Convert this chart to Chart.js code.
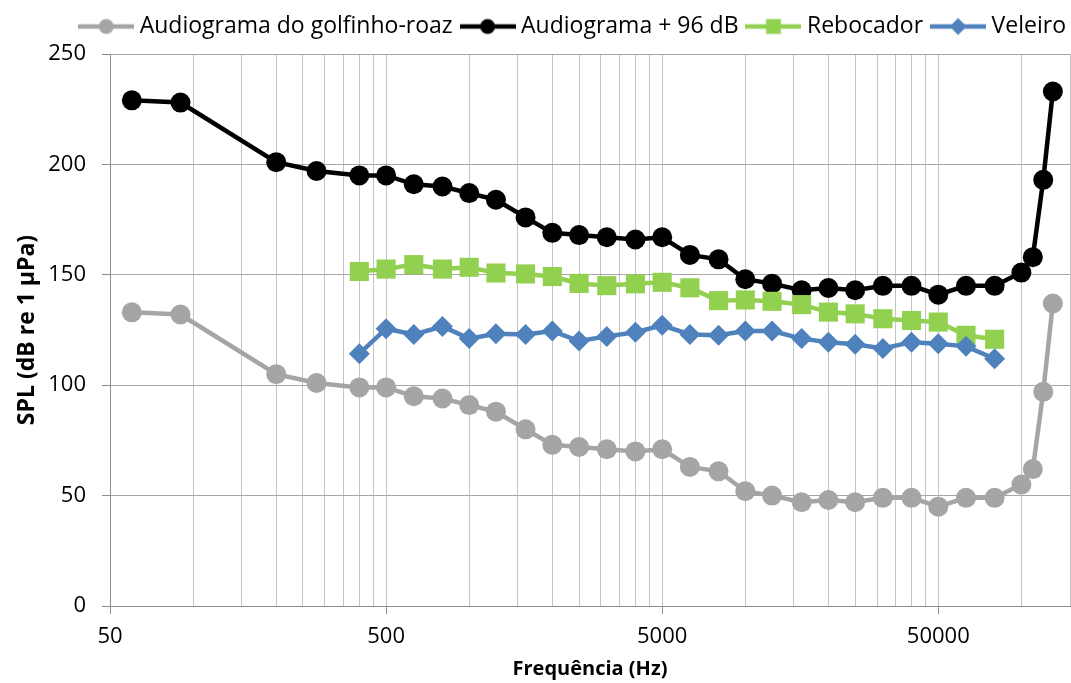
<!DOCTYPE html>
<html>
<head>
<meta charset="utf-8">
<title>Audiograma</title>
<script src="https://cdn.jsdelivr.net/npm/chart.js@4/dist/chart.umd.min.js"></script>
<style>
  html, body { margin: 0; padding: 0; background: #fff; }
  #chart { display: block; }
</style>
</head>
<body>
<canvas id="chart" width="1071" height="683"></canvas>
<script>
// frequencies (Hz) of the audiogram
const freqs = [60, 90, 200, 280, 400, 500, 630, 800, 1000, 1250, 1600, 2000, 2500, 3150, 4000,
               5000, 6300, 8000, 10000, 12500, 16000, 20000, 25000, 31500, 40000, 50000, 63000,
               80000, 100000, 110000, 120000, 130000];
const audiogram = [133, 132, 105, 101, 99, 99, 95, 94, 91, 88, 80, 73, 72, 71, 70,
                   71, 63, 61, 52, 50, 47, 48, 47, 49, 49, 45, 49,
                   49, 55, 62, 97, 137];
const audiogram96 = [229, 228, 201, 197, 195, 195, 191, 190, 187, 184, 176, 169, 168, 167, 166,
                     167, 159, 157, 148, 146, 143, 144, 143, 145, 145, 141, 145,
                     145, 151, 158, 193, 233];

// boat noise spectra (third-octave bands)
const shipFreqs = [400, 500, 630, 800, 1000, 1250, 1600, 2000, 2500, 3150, 4000, 5000,
                   6300, 8000, 10000, 12500, 16000, 20000, 25000, 31500, 40000, 50000, 63000, 80000];
const rebocador = [151.5, 152.6, 154.6, 152.6, 153.4, 150.8, 150.4, 149.2, 146.1, 145.1, 145.9, 146.6,
                   144.1, 138.3, 138.6, 138.0, 136.5, 133.1, 132.3, 130.1, 129.3, 128.6, 122.6, 120.8];
const veleiro = [114.3, 125.6, 123.0, 126.6, 121.1, 123.3, 123.0, 124.5, 120.0, 122.1, 124.0, 127.1,
                 123.0, 122.6, 124.5, 124.5, 121.1, 119.5, 118.5, 116.6, 119.5, 118.8, 117.6, 112.0];

const xLabels = [50, 500, 5000, 50000];
const xMin = 50, xMax = 150000;

// vertical grid: 1..9 times each decade start
const xGrid = [];
xLabels.forEach(d => {
  for (let k = 1; k <= 9; k++) {
    if (d * k <= xMax) xGrid.push(d * k);
  }
});

const pts = (xs, ys) => xs.map((x, i) => ({ x: x, y: ys[i] }));

const FONT = "'Open Sans', sans-serif";

// little line + marker picture for the legend
function legendSample(color, style, radius) {
  const c = document.createElement('canvas');
  c.width = 56; c.height = 24;
  const g = c.getContext('2d');
  g.strokeStyle = color;
  g.fillStyle = color;
  g.lineWidth = 4.5;
  g.beginPath();
  g.moveTo(0, 12);
  g.lineTo(56, 12);
  g.stroke();
  Chart.helpers.drawPoint(g, { pointStyle: style, radius: radius, borderWidth: 0, rotation: 0 }, 28, 12);
  return c;
}

const series = [
  { label: 'Audiograma do golfinho-roaz', data: pts(freqs, audiogram), color: '#a5a5a5', style: 'circle', r: 10, lr: 7.5 },
  { label: 'Audiograma + 96 dB', data: pts(freqs, audiogram96), color: '#000000', style: 'circle', r: 10, lr: 7.5 },
  { label: 'Rebocador', data: pts(shipFreqs, rebocador), color: '#92d050', style: 'rect', r: 13.5, lr: 10.5 },
  { label: 'Veleiro', data: pts(shipFreqs, veleiro), color: '#4f81bd', style: 'rectRot', r: 10.5, lr: 8.5 }
];

const datasets = series.map((s, i) => ({
  label: s.label,
  data: s.data,
  borderColor: s.color,
  backgroundColor: s.color,
  borderWidth: 4.5,
  pointStyle: s.style,
  pointRadius: s.r,
  pointHoverRadius: s.r,
  pointBorderWidth: 0,
  pointBackgroundColor: s.color,
  order: series.length - i,
  sample: legendSample(s.color, s.style, s.lr)
}));

// extra room under the legend, and let its row run closer to the right edge
const legendGap = {
  id: 'legendGap',
  beforeInit(chart) {
    const fit = chart.legend.fit;
    chart.legend.fit = function () {
      fit.call(this);
      this.height += 6;
    };
  },
  afterLayout(chart) {
    chart.legend.right += 9;
    chart.legend.width += 9;
  }
};

new Chart(document.getElementById('chart'), {
  type: 'line',
  data: { datasets: datasets },
  plugins: [legendGap],
  options: {
    responsive: false,
    animation: false,
    layout: { autoPadding: false, padding: { top: 2, right: 1, left: 0, bottom: 0 } },
    plugins: {
      tooltip: { enabled: false },
      legend: {
        position: 'top',
        align: 'end',
        labels: {
          usePointStyle: true,
          pointStyleWidth: 44,
          boxHeight: 20,
          padding: 13,
          color: '#000',
          font: { family: FONT, size: 23 },
          sort: (a, b) => a.datasetIndex - b.datasetIndex,
          generateLabels: (chart) => chart.data.datasets.map((ds, i) => ({
            text: ds.label,
            pointStyle: ds.sample,
            fillStyle: ds.borderColor,
            strokeStyle: ds.borderColor,
            lineWidth: 0,
            fontColor: '#000',
            hidden: false,
            datasetIndex: i
          }))
        }
      }
    },
    scales: {
      x: {
        type: 'logarithmic',
        min: xMin,
        max: xMax,
        afterBuildTicks: (scale) => {
          scale.ticks = xGrid.map(v => ({ value: v }));
        },
        afterFit: (scale) => {
          scale.height = 77;
          scale.paddingLeft = 0;
          scale.paddingRight = 0;
        },
        ticks: {
          autoSkip: false,
          maxRotation: 0,
          padding: 10,
          color: '#000',
          font: { family: FONT, size: 22 },
          callback: (v) => xLabels.includes(v) ? String(v) : ''
        },
        grid: {
          color: '#c4c4c4',
          lineWidth: 1,
          tickLength: 8,
          tickColor: (ctx) => xLabels.includes(ctx.tick && ctx.tick.value) ? '#8c8c8c' : 'rgba(0,0,0,0)'
        },
        border: { color: '#8c8c8c', width: 1 },
        title: {
          display: true,
          text: 'Frequência (Hz)',
          color: '#000',
          font: { family: FONT, size: 20, weight: 'bold' },
          padding: { top: 0, bottom: 2 }
        }
      },
      y: {
        min: 0,
        max: 250,
        afterFit: (scale) => { scale.width = 110; },
        ticks: {
          stepSize: 50,
          padding: 16,
          color: '#000',
          font: { family: FONT, size: 22 }
        },
        grid: {
          color: '#a6a6a6',
          lineWidth: 1,
          tickLength: 8,
          tickColor: '#8c8c8c'
        },
        border: { color: '#8c8c8c', width: 1 },
        title: {
          display: true,
          text: 'SPL (dB re 1 µPa)',
          color: '#000',
          font: { family: FONT, size: 23, weight: 'bold' },
          padding: { top: 14, bottom: 0 }
        }
      }
    }
  }
});
</script>
</body>
</html>
